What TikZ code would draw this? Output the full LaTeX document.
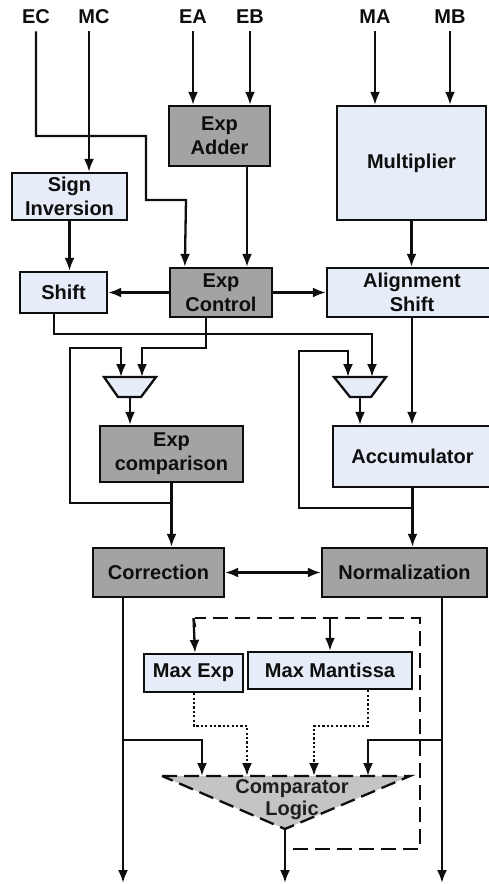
\documentclass[tikz,border=0pt]{standalone}
\usepackage{fontspec}
\setmainfont{Liberation Sans}
\usetikzlibrary{arrows.meta}
\definecolor{boxgray}{HTML}{A3A3A3}
\definecolor{boxblue}{HTML}{E6EDF8}
\definecolor{cmpgray}{HTML}{C4C4C4}
\definecolor{ink}{HTML}{0E0E0E}
\definecolor{cmpink}{HTML}{1E1E1E}

\begin{document}
\begin{tikzpicture}[x=1pt, y=-1pt,
  wire/.style={draw=ink, line width=2.3pt},
  arr/.style={wire, -{Latex[length=13pt,width=10pt]}},
  duplex/.style={wire, {Latex[length=13pt,width=10pt]}-{Latex[length=13pt,width=10pt]}},
  dotarr/.style={arr, dash pattern=on 2.2pt off 2.2pt},
  dashline/.style={wire, dash pattern=on 15pt off 7pt},
  txt/.style={font=\fontsize{20}{24}\selectfont\bfseries, text=ink},
  block/.style={txt, draw=ink, line width=2.3pt, align=center, inner sep=0pt},
  darkblock/.style={block, fill=boxgray},
  lightblock/.style={block, fill=boxblue},
  lbl/.style={txt, inner sep=7pt}
]
\useasboundingbox (0,0) rectangle (488,884);

% input labels
\node[lbl] (ec) at (36,17) {EC};
\node[lbl] (mc) at (94,17) {MC};
\node[lbl] (ea) at (193,17) {EA};
\node[lbl] (eb) at (250,17) {EB};
\node[lbl] (ma) at (375,17) {MA};
\node[lbl] (mb) at (450,17) {MB};

% functional blocks
\node[darkblock, minimum width=101pt, minimum height=60pt] (adder) at (219.5,136) {Exp\\Adder};
\node[lightblock, minimum width=149pt, minimum height=114pt] (mult) at (411.5,163) {Multiplier};
\node[lightblock, minimum width=115pt, minimum height=47pt] (sign) at (69.5,196.5) {Sign\\Inversion};
\node[lightblock, minimum width=87pt, minimum height=41pt] (shift) at (63.5,292.5) {Shift};
\node[darkblock, minimum width=102pt, minimum height=49pt] (ctrl) at (221,292.5) {Exp\\Control};
\node[lightblock, minimum width=170pt, minimum height=49pt] (align) at (412,292.5) {Alignment\\Shift};
\node[darkblock, minimum width=143pt, minimum height=56pt] (cmp) at (171.5,454) {Exp\\comparison};
\node[lightblock, minimum width=159pt, minimum height=61pt] (acc) at (412.5,456.5) {Accumulator};
\node[darkblock, minimum width=131pt, minimum height=49pt] (corr) at (158.5,572.5) {Correction};
\node[darkblock, minimum width=165pt, minimum height=49pt] (norm) at (404.5,572.5) {Normalization};
\node[lightblock, minimum width=99pt, minimum height=38pt] (maxexp) at (193.5,673) {Max Exp};
\node[lightblock, minimum width=164pt, minimum height=37pt] (maxman) at (330,670.5) {Max Mantissa};

% multiplexers
\draw[wire, fill=boxblue] (104,377) -- (156,377) -- (141,397) -- (118,397) -- cycle;
\coordinate (m1a) at (121,377);
\coordinate (m1b) at (142,377);
\coordinate (m1o) at (130,397);
\draw[wire, fill=boxblue] (334,377) -- (386,377) -- (371,397) -- (350,397) -- cycle;
\coordinate (m2a) at (348,377);
\coordinate (m2b) at (372,377);
\coordinate (m2o) at (360,397);

% comparator logic
\coordinate (cl) at (162,776);
\coordinate (cr) at (410,776);
\coordinate (co) at (285,829);
\draw[dashline, fill=cmpgray] (cl) -- (cr) -- (co) -- cycle;
\node[txt, text=cmpink, align=center, font=\fontsize{20}{22}\selectfont\bfseries] (comptext) at (292,800) {Comparator\\Logic};

% inputs
\draw[arr] (ec.south) -- (36,136) -- (146,136) -- (146,200) -- (186,200) -- ([xshift=16pt]ctrl.north west);
\draw[arr] ([xshift=-5pt]mc.south) -- ([xshift=-5pt]mc.south |- sign.north);
\draw[arr] (ea.south) -- (ea.south |- adder.north);
\draw[arr] (eb.south) -- (eb.south |- adder.north);
\draw[arr] (ma.south) -- (ma.south |- mult.north);
\draw[arr] (mb.south) -- (mb.south |- mult.north);

% exponent / mantissa paths
\draw[arr] ([xshift=27.5pt]adder.south) -- ([xshift=27.5pt]adder.south |- ctrl.north);
\draw[arr] (mult.south) -- (mult.south |- align.north);
\draw[arr] (sign.south) -- (sign.south |- shift.north);
\draw[arr] (ctrl.west) -- (shift.east);
\draw[arr] (ctrl.east) -- (align.west);

% to the multiplexers
\draw[arr] ([xshift=-9.5pt]shift.south) -- ++(0,20) -| (m2b);
\draw[arr] ([xshift=-15pt]ctrl.south) -- ++(0,30) -| (m1b);
\coordinate (fbL) at (cmp.south |- 0,503);
\draw[arr] (fbL) -- (70,503) -- (70,348) -| (m1a);
\coordinate (fbR) at (acc.south |- 0,508);
\draw[arr] (fbR) -- (299,508) -- (299,351) -| (m2a);

% multiplexer outputs and datapath
\draw[arr] (m1o) -- (m1o |- cmp.north);
\draw[arr] (m2o) -- (m2o |- acc.north);
\draw[arr] (align.south) -- (align.south |- acc.north);
\draw[arr] (cmp.south) -- (cmp.south |- corr.north);
\draw[arr] (acc.south) -- (acc.south |- norm.north);
\draw[duplex] (corr.east) -- (norm.west);

% outputs
\coordinate (outL) at (123,883);
\coordinate (outM) at (285,883);
\coordinate (outR) at (442,883);
\draw[arr] ([xshift=-35.5pt]corr.south) -- (outL);
\draw[arr] ([xshift=37.5pt]norm.south) -- (outR);
\draw[arr] (co) -- (outM);

% comparator inputs
\draw[arr] (123,740) -| (202,776);
\draw[arr] (442,740) -| (368,776);
\draw[dotarr] ([xshift=0.5pt]maxexp.south) -- (194,726) -| (247,776);
\draw[dotarr] ([xshift=38pt]maxman.south) -- (368,726) -| (314,776);

% feedback of the maxima
\draw[dashline] (293,849) -- (420,849) -- (420,618) -- (195,618);
\draw[arr] (195,627) -- (195,618 -| maxexp.north) -- ([xshift=1.5pt]maxexp.north);
\draw[arr] (maxman.north |- 0,618) -- (maxman.north);
\end{tikzpicture}
\end{document}
